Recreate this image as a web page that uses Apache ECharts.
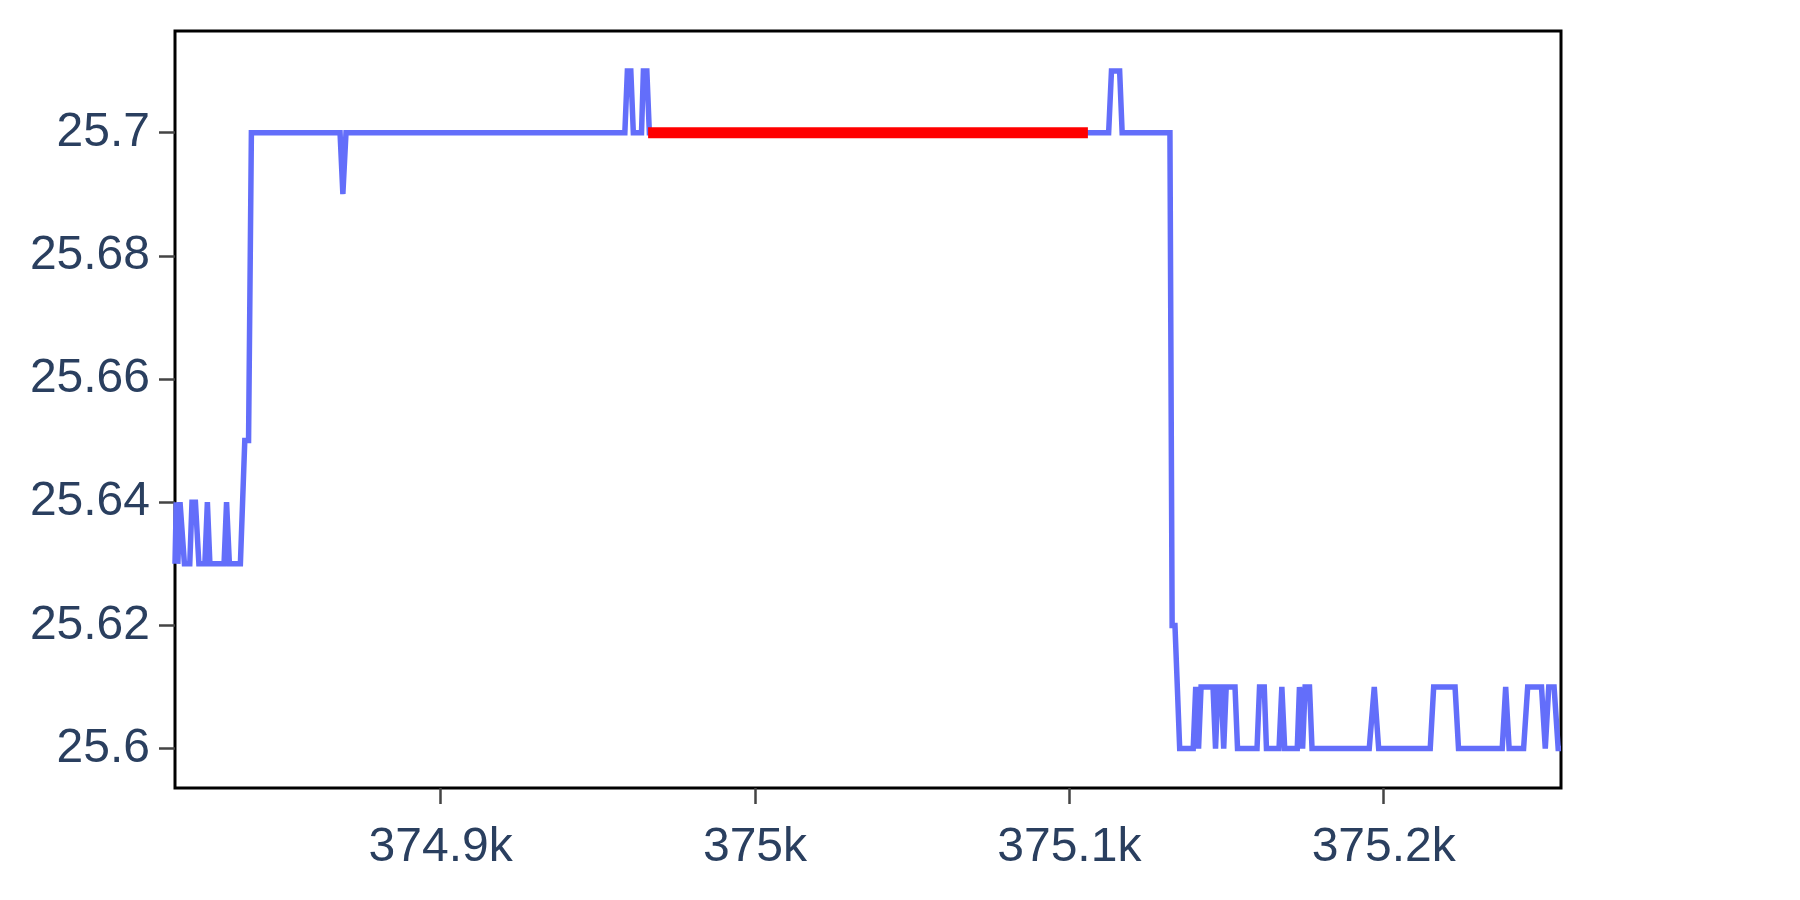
<!DOCTYPE html>
<html>
<head>
<meta charset="utf-8">
<title>chart</title>
<script src="https://cdn.jsdelivr.net/npm/echarts@6/dist/echarts.min.js"></script>
<style>
  html, body { margin: 0; padding: 0; background: #fff; }
  #main { width: 1800px; height: 900px; }
</style>
</head>
<body>
<div id="main"></div>
<script>
// trace points (x, y)
var xValues = [374815.5, 374815.9, 374816.4, 374817.1, 374817.7, 374818.5, 374820.2, 374820.9, 374822.0, 374823.1,
  374825.0, 374825.8, 374826.6, 374831.1, 374831.9, 374832.8, 374836.3, 374837.7, 374838.9, 374839.8,
  374868.0, 374868.9, 374869.9, 374958.6, 374959.4, 374960.5, 374961.3, 374963.9, 374964.5, 374965.6,
  374966.4, 375112.5, 375113.4, 375116.0, 375116.8, 375132.0, 375132.7, 375133.6, 375135.1, 375139.4,
  375140.2, 375141.1, 375141.9, 375145.7, 375146.5, 375147.3, 375148.3, 375149.1, 375149.9, 375152.7,
  375153.5, 375159.7, 375160.5, 375162.0, 375162.7, 375166.7, 375167.6, 375168.5, 375172.5, 375173.2,
  375174.2, 375175.0, 375176.4, 375177.2, 375195.4, 375197.0, 375198.4, 375214.8, 375215.9, 375222.7,
  375223.8, 375237.7, 375238.8, 375239.9, 375244.5, 375245.8, 375250.2, 375251.4, 375252.5, 375254.2,
  375255.5, 375256.4];
var yValues = [25.63, 25.64, 25.63, 25.64, 25.64, 25.63, 25.63, 25.64, 25.64, 25.63,
  25.63, 25.64, 25.63, 25.63, 25.64, 25.63, 25.63, 25.65, 25.65, 25.7,
  25.7, 25.69, 25.7, 25.7, 25.71, 25.71, 25.7, 25.7, 25.71, 25.71,
  25.7, 25.7, 25.71, 25.71, 25.7, 25.7, 25.62, 25.62, 25.6, 25.6,
  25.61, 25.6, 25.61, 25.61, 25.6, 25.61, 25.61, 25.6, 25.61, 25.61,
  25.6, 25.6, 25.61, 25.61, 25.6, 25.6, 25.61, 25.6, 25.6, 25.61,
  25.6, 25.61, 25.61, 25.6, 25.6, 25.61, 25.6, 25.6, 25.61, 25.61,
  25.6, 25.6, 25.61, 25.6, 25.6, 25.61, 25.61, 25.6, 25.61, 25.61,
  25.6, 25.6];

// red highlighted segment
var highlightX = [374966.0, 375105.9];
var highlightY = [25.7, 25.7];

// ticks
var xTicks = [374900, 375000, 375100, 375200];
var yTicks = [25.6, 25.62, 25.64, 25.66, 25.68, 25.7];

function pairs(xs, ys) {
  var out = [];
  for (var i = 0; i < xs.length; i++) out.push([xs[i], ys[i]]);
  return out;
}

var myChart = echarts.init(document.getElementById('main'));

var labelFont = {
  color: '#2a3f5f',
  fontSize: 48,
  fontFamily: 'Liberation Sans, Arial, sans-serif'
};

var option = {
  animation: false,
  backgroundColor: '#fff',
  grid: {
    left: 175,
    right: 239,
    top: 31,
    bottom: 112,
    show: true,
    borderColor: '#000',
    borderWidth: 3,
    backgroundColor: 'transparent'
  },
  xAxis: {
    type: 'value',
    min: 374815.5,
    max: 375256.4,
    axisLine: { show: false },
    splitLine: { show: false },
    axisTick: {
      show: true,
      customValues: xTicks,
      length: 16,
      lineStyle: { color: '#444', width: 2.5 }
    },
    axisLabel: Object.assign({
      customValues: xTicks,
      margin: 36,
      formatter: function (v) {
        return parseFloat((v / 1000).toFixed(1)) + 'k';
      }
    }, labelFont)
  },
  yAxis: {
    type: 'value',
    min: 25.5936,
    max: 25.7165,
    axisLine: { show: false },
    splitLine: { show: false },
    axisTick: {
      show: true,
      customValues: yTicks,
      length: 16,
      lineStyle: { color: '#444', width: 2.5 }
    },
    axisLabel: Object.assign({
      customValues: yTicks,
      margin: 25,
      formatter: function (v) {
        return String(parseFloat(v.toFixed(2)));
      }
    }, labelFont)
  },
  series: [
    {
      type: 'line',
      data: pairs(xValues, yValues),
      showSymbol: false,
      smooth: false,
      lineStyle: { color: '#636efa', width: 5.5, join: 'miter' },
      z: 2
    },
    {
      type: 'line',
      data: pairs(highlightX, highlightY),
      showSymbol: false,
      lineStyle: { color: '#ff0000', width: 11 },
      z: 3
    }
  ]
};

myChart.setOption(option);

window.addEventListener('resize', function () {
  myChart.resize();
});
</script>
</body>
</html>
